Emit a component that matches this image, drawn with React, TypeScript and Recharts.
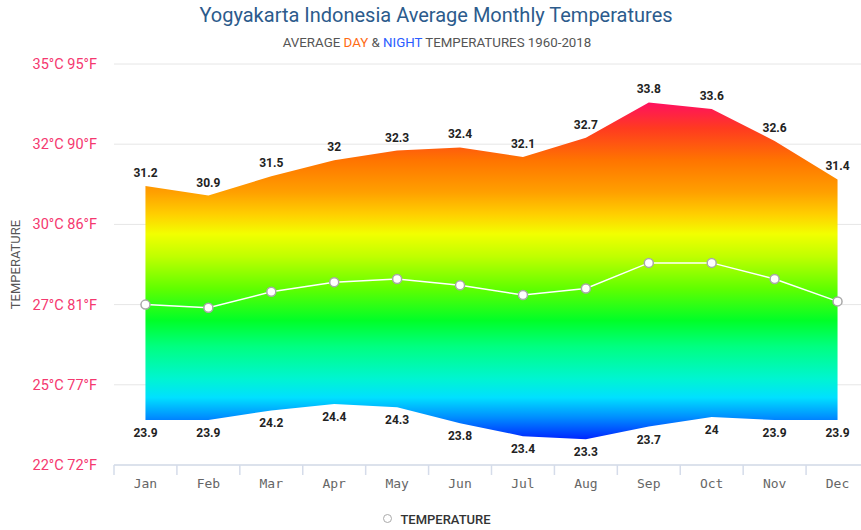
import {
  Area,
  CartesianGrid,
  ComposedChart,
  Line,
  XAxis,
  YAxis,
} from "recharts";

const months = ["Jan", "Feb", "Mar", "Apr", "May", "Jun", "Jul", "Aug", "Sep", "Oct", "Nov", "Dec"];
const dayTemps = [31.2, 30.9, 31.5, 32, 32.3, 32.4, 32.1, 32.7, 33.8, 33.6, 32.6, 31.4];
const nightTemps = [23.9, 23.9, 24.2, 24.4, 24.3, 23.8, 23.4, 23.3, 23.7, 24, 23.9, 23.9];
const avgTemps = [27.5, 27.4, 27.9, 28.2, 28.3, 28.1, 27.8, 28.0, 28.8, 28.8, 28.3, 27.6];
const yTicks = [22.5, 25, 27.5, 30, 32.5, 35];

// temperature -> colour stops for the day/night band
const gradientStops: [number, string][] = [
  [35, "#ff0a6a"],
  [33.8, "#ff1060"],
  [33.0, "#ff3a20"],
  [32.0, "#ff7400"],
  [31.0, "#ffa000"],
  [30.3, "#ffd000"],
  [29.7, "#f2ff00"],
  [29.0, "#c0ff00"],
  [28.0, "#60ff00"],
  [27.0, "#00ff28"],
  [26.2, "#00ff80"],
  [25.2, "#00f5d0"],
  [24.6, "#00e0ff"],
  [24.0, "#0090ff"],
  [23.3, "#0025ff"],
  [22.5, "#1010e0"],
];

const data = months.map((m, i) => ({
  month: m,
  range: [nightTemps[i], dayTemps[i]],
  max: dayTemps[i],
  min: nightTemps[i],
  avg: avgTemps[i],
}));

const W = 880;
const H = 530;
const TOP = 64;
const BOTTOM = 35;
const XAXIS_H = 30;
const YAXIS_W = 114;
const RIGHT = 11;
const PLOT_BOTTOM = H - BOTTOM - XAXIS_H;
const BAND = (W - YAXIS_W - RIGHT) / months.length;
const Y_MIN = 22.5;
const Y_MAX = 35;

const fmtTick = (c: number) => `${Math.floor(c)}°C ${Math.floor((c * 9) / 5 + 32)}°F`;

function YTick(props: any) {
  const { y, payload } = props;
  return (
    <text
      x={YAXIS_W - 17}
      y={y}
      dy={5}
      textAnchor="end"
      fontSize={14.5}
      fontFamily="Roboto"
      fill="#f5386f"
    >
      {fmtTick(payload.value)}
    </text>
  );
}

function XTick(props: any) {
  const { x, payload } = props;
  return (
    <g>
      <line x1={x - BAND / 2} x2={x - BAND / 2} y1={PLOT_BOTTOM} y2={PLOT_BOTTOM + 10} stroke="#d5dcea" strokeWidth={1.5} />
      <text x={x} y={PLOT_BOTTOM + 23} textAnchor="middle" fontSize={13} fontFamily="DejaVu Sans Mono" fill="#666">
        {payload.value}
      </text>
    </g>
  );
}

const valueLabel = (below: boolean) => (props: any) => {
  const { x, y, value, index } = props;
  return (
    <text
      key={index}
      x={x}
      y={below ? y + 17 : y - 9}
      textAnchor="middle"
      fontSize={12}
      fontWeight={700}
      fontFamily="Roboto"
      fill="#222"
    >
      {value}
    </text>
  );
};

export default function App() {
  return (
    <div
      style={{
        position: "absolute",
        left: 0,
        top: 0,
        width: 861,
        height: 530,
        overflow: "hidden",
        background: "#fff",
        fontFamily: "Roboto",
      }}
    >
      <div style={{ position: "absolute", left: 0, width: 872, top: 3, textAlign: "center", fontSize: 20, color: "#2c5b8c" }}>
        Yogyakarta Indonesia Average Monthly Temperatures
      </div>
      <div style={{ position: "absolute", left: 0, width: 874, top: 35, textAlign: "center", fontSize: 13.3, color: "#555" }}>
        AVERAGE <span style={{ color: "#ff6a13" }}>DAY</span> &amp;{" "}
        <span style={{ color: "#2a5cff" }}>NIGHT</span> TEMPERATURES 1960-2018
      </div>
      <ComposedChart
        width={W}
        height={H}
        data={data}
        margin={{ top: TOP, right: RIGHT, left: 0, bottom: BOTTOM }}
      >
        <defs>
          <linearGradient
            id="tempFill"
            gradientUnits="userSpaceOnUse"
            x1={0}
            x2={0}
            y1={TOP}
            y2={PLOT_BOTTOM}
          >
            {gradientStops.map(([t, c]) => (
              <stop key={t} offset={(Y_MAX - t) / (Y_MAX - Y_MIN)} stopColor={c} />
            ))}
          </linearGradient>
        </defs>
        <CartesianGrid vertical={false} stroke="#e6e6e6" />
        <XAxis
          dataKey="month"
          scale="band"
          height={XAXIS_H}
          axisLine={{ stroke: "#d5dcea", strokeWidth: 1.5 }}
          tickLine={false}
          tick={<XTick />}
          interval={0}
        />
        <YAxis
          width={YAXIS_W}
          domain={[Y_MIN, Y_MAX]}
          ticks={yTicks}
          interval={0}
          axisLine={false}
          tickLine={false}
          tick={<YTick />}
          label={{
            value: "TEMPERATURE",
            angle: -90,
            position: "insideLeft",
            offset: 15,
            style: { textAnchor: "middle", fontSize: 13, fill: "#555", fontFamily: "Roboto" },
          }}
        />
        <Area
          dataKey="range"
          type="linear"
          stroke="none"
          fill="url(#tempFill)"
          fillOpacity={1}
          isAnimationActive={false}
          legendType="none"
          activeDot={false}
        />
        <Line
          dataKey="max"
          stroke="none"
          dot={false}
          activeDot={false}
          isAnimationActive={false}
          legendType="none"
          label={valueLabel(false)}
        />
        <Line
          dataKey="min"
          stroke="none"
          dot={false}
          activeDot={false}
          isAnimationActive={false}
          legendType="none"
          label={valueLabel(true)}
        />
        <Line
          dataKey="avg"
          name="TEMPERATURE"
          type="linear"
          stroke="#ffffff"
          strokeWidth={1.5}
          dot={{ r: 4.5, fill: "#fff", stroke: "#a8a8a8", strokeWidth: 1.5 }}
          activeDot={false}
          isAnimationActive={false}
        />
      </ComposedChart>
      <div
        style={{
          position: "absolute",
          top: 512,
          left: 0,
          width: 874,
          textAlign: "center",
          fontSize: 13,
          fontWeight: 500,
          color: "#333",
        }}
      >
        <span
          style={{
            display: "inline-block",
            width: 7,
            height: 7,
            borderRadius: "50%",
            border: "1.5px solid #aaa",
            marginRight: 8,
            verticalAlign: "1px",
          }}
        />
        TEMPERATURE
      </div>
    </div>
  );
}
